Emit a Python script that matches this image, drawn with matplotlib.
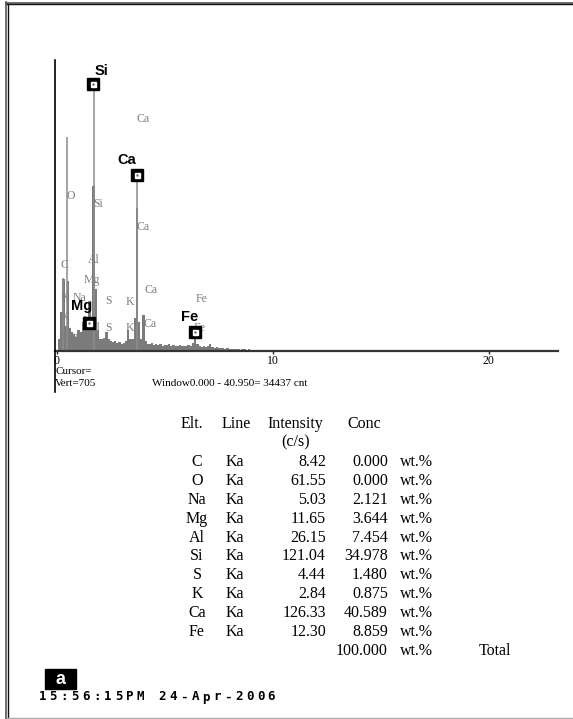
import numpy as np
import matplotlib
matplotlib.use("Agg")
import matplotlib.pyplot as plt
from matplotlib.lines import Line2D
from matplotlib.patches import Rectangle

W, H = 573, 719


def fx(x):
    return x / W


def fy(y):
    return 1 - y / H


# ── Spectrum data (counts per 0.1 keV channel) ────────────────────────────────
counts = [
    0, 30, 95, 175, 60, 170, 55, 45, 40, 35,       # 0 keV
    50, 45, 70, 85, 60, 120, 70, 400, 150, 50,     # 1 keV
    30, 28, 32, 45, 30, 25, 22, 24, 20, 22,        # 2 keV
    18, 20, 25, 50, 30, 28, 80, 346, 70, 30,       # 3 keV
    87, 25, 18, 16, 20, 15, 17, 14, 16, 13,        # 4 keV
    15, 14, 16, 12, 14, 13, 12, 14, 11, 13,        # 5 keV
    12, 14, 12, 20, 46, 18, 12, 10, 11, 9,         # 6 keV
    12, 16, 9, 8, 10, 7, 8, 7, 6, 8,               # 7 keV
    6, 5, 6, 4, 5, 3, 5, 4, 3, 4,                  # 8 keV
    3, 2, 3, 2, 0, 0, 2, 3, 2, 0,                  # 9 keV
    0, 2, 0, 0, 2, 0, 0, 0, 2, 0,                  # 10 keV
    0, 0, 2, 0, 0, 0, 0, 0, 0, 0,                  # 11 keV
    0, 0, 0, 0, 0, 0, 0, 0, 2, 0,                  # 12 keV
    2, 0, 0, 0, 0, 2, 0, 0, 0, 0,                  # 13 keV
    0, 0, 2, 0, 0, 0, 0, 0, 0, 0,                  # 14 keV
    0, 0, 0, 0, 0, 2, 0, 0, 0, 0,                  # 15 keV
]
channel_kev = np.arange(len(counts)) * 0.1

# narrow peak tips above the channel bars
tip_kev = [0.28, 0.45, 1.70, 3.69]
tip_counts = [177, 518, 649, 426]

# identified peaks (boxed markers with bold labels)
id_elems = ["Si", "Ca", "Mg", "Fe"]
id_kev = [1.66, 3.69, 1.48, 6.40]
id_counts = [647, 426, 68, 46]

# gray KLM marker labels (element, keV, counts)
klm_elems = ["Ca", "O", "Si", "Ca", "Al", "C", "Mg", "Ca", "Fe", "K", "Na",
             "S", "K", "K", "Al", "S", "K", "Ca", "Fe", "S", "Fe"]
klm_kev = [3.98, 0.65, 1.90, 3.98, 1.72, 0.37, 1.62, 4.35, 6.70, 0.37, 1.05,
           2.40, 3.38, 0.37, 1.77, 2.40, 3.38, 4.30, 6.62, 0.19, 0.70]
klm_counts = [562, 375, 356, 300, 220, 208, 172, 148, 126, 131, 128,
              121, 119, 82, 56, 56, 56, 65, 56, 36, 34]

# ── Quantification table ─────────────────────────────────────────────────────
elements = ["C", "O", "Na", "Mg", "Al", "Si", "S", "K", "Ca", "Fe"]
lines = ["Ka"] * 10
intensity = [8.42, 61.55, 5.03, 11.65, 26.15, 121.04, 4.44, 2.84, 126.33, 12.30]
conc = [0.000, 0.000, 2.121, 3.644, 7.454, 34.978, 1.480, 0.875, 40.589, 8.859]
total_conc = 100.000

fig = plt.figure(figsize=(W / 100, H / 100), dpi=100)
fig.patch.set_facecolor("white")

# ── Spectrum axes ─────────────────────────────────────────────────────────────
ax = fig.add_axes([fx(55), fy(351), (558 - 55) / W, 291 / H])
ax.set_xlim(-0.09, 23.2)
ax.set_ylim(0, 705)
for s in ["top", "right", "left"]:
    ax.spines[s].set_visible(False)
ax.spines["bottom"].set_color("#333333")
ax.spines["bottom"].set_linewidth(1.6)
ax.set_yticks([])
ax.set_xticks([0, 10, 20])
ax.set_xticklabels(["0", "10", "20"], family="Liberation Serif", fontsize=8.5)
ax.tick_params(axis="x", length=2.5, width=1, color="#222222", pad=0.5)

ax.bar(channel_kev, counts, width=0.11, color="#7b7b7b", linewidth=0)
ax.vlines(tip_kev, 0, tip_counts, color="#8c8c8c", lw=1.1)

for el, e, c in zip(klm_elems, klm_kev, klm_counts):
    ax.text(e, c, el, ha="center", va="center", family="Liberation Serif",
            fontsize=8.5, color="#7f7f7f", zorder=2)

ax.plot(id_kev, id_counts, "s", ms=8.5, color="black", mec="black", zorder=5)
ax.plot(id_kev, id_counts, "s", ms=3.6, color="white", mec="white", zorder=6)
ax.plot(id_kev, id_counts, "s", ms=1.5, color="#555555", mec="none", zorder=7)

label_off = {"Si": (6, 9), "Ca": (-7, 11), "Mg": (-5, 12), "Fe": (-4, 11)}
for el, e, c in zip(id_elems, id_kev, id_counts):
    dx, dy = label_off[el]
    ax.annotate(el, (e, c), xytext=(dx, dy), textcoords="offset points",
                ha="center", va="center", family="Liberation Sans",
                fontweight="bold", fontsize=10.5, color="black", zorder=8)

# left axis line runs down past the cursor readout
fig.add_artist(Line2D([fx(55), fx(55)], [fy(60), fy(392)], color="black", lw=1.2))

txt_kw = dict(family="Liberation Serif", fontsize=8, color="black", va="center")
fig.text(fx(55), fy(371.5), "Cursor=", **txt_kw)
fig.text(fx(55), fy(384), "Vert=705", **txt_kw)
fig.text(fx(152), fy(384), "Window0.000 - 40.950= 34437 cnt", **txt_kw)

# ── Table ─────────────────────────────────────────────────────────────────────
tk = dict(family="Liberation Serif", fontsize=11.5, color="black", va="center")
fig.text(fx(192), fy(424), "Elt.", ha="center", **tk)
fig.text(fx(236), fy(424), "Line", ha="center", **tk)
fig.text(fx(295), fy(424), "Intensity", ha="center", **tk)
fig.text(fx(364), fy(424), "Conc", ha="center", **tk)
fig.text(fx(296), fy(442), "(c/s)", ha="center", **tk)

row_y0, row_dy = 462, 18.9
for i, (el, ln, it, cc) in enumerate(zip(elements, lines, intensity, conc)):
    y = fy(row_y0 + i * row_dy)
    fig.text(fx(197), y, el, ha="center", **tk)
    fig.text(fx(235), y, ln, ha="center", **tk)
    fig.text(fx(326), y, f"{it:.2f}", ha="right", **tk)
    fig.text(fx(388), y, f"{cc:.3f}", ha="right", **tk)
    fig.text(fx(400), y, "wt.%", ha="left", **tk)
y = fy(row_y0 + len(elements) * row_dy)
fig.text(fx(388), y, f"{total_conc:.3f}", ha="right", **tk)
fig.text(fx(400), y, "wt.%", ha="left", **tk)
fig.text(fx(479), y, "Total", ha="left", **tk)

# ── Panel tag and timestamp ──────────────────────────────────────────────────
fig.add_artist(Rectangle((fx(45), fy(689)), 31 / W, 20 / H, color="black",
                         transform=fig.transFigure))
fig.text(fx(60.5), fy(679), "a", ha="center", va="center", color="white",
         family="Liberation Sans", fontweight="bold", fontsize=13)
stamp = "15:56:15PM 24-Apr-2006"
for k, ch in enumerate(stamp):
    fig.text(fx(42.5 + k * 10.9), fy(697), ch, ha="center", va="center",
             family="DejaVu Sans Mono", fontweight="bold", fontsize=9)

# ── Page frame ───────────────────────────────────────────────────────────────
fig.add_artist(Line2D([fx(6), 1], [fy(2.5), fy(2.5)], color="#555555", lw=1.2))
fig.add_artist(Line2D([fx(6), 1], [fy(4), fy(4)], color="#111111", lw=1.0))
fig.add_artist(Line2D([fx(6), fx(6)], [fy(2), 0], color="#555555", lw=1.2))
fig.add_artist(Line2D([fx(7.5), fx(7.5)], [fy(4), 0], color="#111111", lw=1.0))
fig.add_artist(Line2D([fx(7), 1], [fy(717.5), fy(717.5)], color="#aaaaaa", lw=1.0))

fig.savefig("out.png", dpi=100, facecolor="white")
